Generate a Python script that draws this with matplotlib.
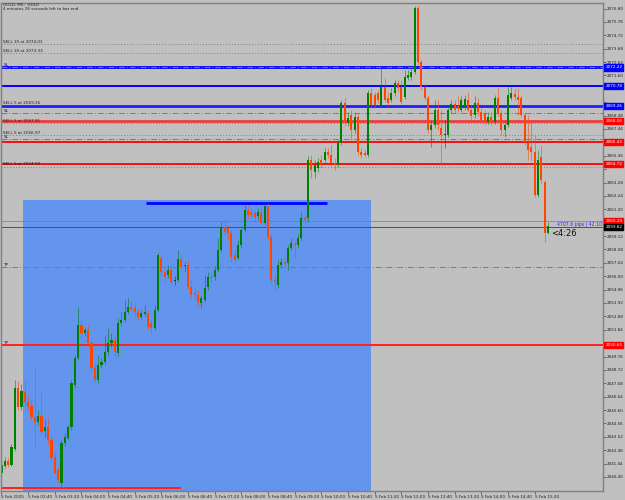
import matplotlib
matplotlib.use("Agg")
import matplotlib.pyplot as plt
from matplotlib.patches import Rectangle

# GOLD M5 bars, 5 Feb 2025 from 02:00
opens = [2040.71, 2041.25, 2041.64, 2041.33, 2042.58, 2047.31, 2045.83, 2047.00, 2046.22, 2045.91,
         2045.06, 2044.67, 2045.14, 2043.97, 2044.28, 2043.27, 2041.95, 2040.94, 2039.93, 2043.04,
         2043.43, 2044.28, 2047.54, 2049.64, 2052.21, 2051.59, 2051.82, 2050.81, 2048.87, 2047.93,
         2049.10, 2049.33, 2050.11, 2050.81, 2051.04, 2050.03, 2052.37, 2052.60, 2053.22, 2053.61,
         2053.53, 2053.22, 2052.83, 2053.06, 2053.14, 2052.37, 2051.98, 2053.37, 2057.42, 2056.33,
         2056.09, 2056.48, 2055.62, 2055.70, 2057.34, 2056.79, 2056.87, 2055.16, 2054.70, 2054.54,
         2053.91, 2054.15, 2055.16, 2055.94, 2055.94, 2056.48, 2058.04, 2059.82, 2059.74, 2059.36,
         2057.65, 2057.42, 2058.42, 2059.59, 2061.14, 2060.98, 2060.91, 2060.68, 2060.91, 2060.14,
         2061.38, 2059.05, 2055.70, 2055.31, 2056.87, 2057.10, 2057.03, 2058.18, 2058.50, 2058.42,
         2058.97, 2060.52, 2060.52, 2065.03, 2064.10, 2064.41, 2065.03, 2065.03, 2065.65, 2065.42,
         2064.79, 2064.64, 2066.35, 2069.46, 2067.91, 2068.52, 2067.36, 2068.37, 2065.65, 2065.57,
         2065.42, 2070.24, 2070.08, 2070.24, 2069.30, 2070.70, 2069.84, 2069.69, 2070.24, 2071.01,
         2070.70, 2069.92, 2071.40, 2071.48, 2071.87, 2076.84, 2072.64, 2070.70, 2069.84, 2067.36,
         2067.75, 2068.91, 2067.52, 2066.97, 2066.97, 2068.91, 2069.38, 2069.23, 2068.91, 2069.15,
         2069.69, 2068.91, 2068.52, 2069.46, 2068.75, 2068.68, 2067.98, 2068.37, 2067.98, 2069.84,
         2068.68, 2067.36, 2067.75, 2069.84, 2070.16, 2069.92, 2069.84, 2068.52, 2066.35, 2066.04,
         2065.65, 2062.31, 2065.26, 2063.32, 2059.36]
highs = [2041.72, 2041.95, 2041.87, 2042.96, 2047.93, 2047.85, 2047.62, 2047.93, 2046.69, 2046.38,
         2048.87, 2045.60, 2046.92, 2044.83, 2044.99, 2043.66, 2042.34, 2041.25, 2043.27, 2043.81,
         2044.44, 2047.93, 2049.88, 2053.61, 2052.60, 2052.06, 2052.21, 2051.04, 2049.33, 2049.88,
         2049.64, 2051.43, 2051.98, 2051.59, 2051.43, 2052.75, 2053.22, 2054.15, 2054.31, 2054.15,
         2053.99, 2053.53, 2053.37, 2053.76, 2053.37, 2052.60, 2053.76, 2057.88, 2057.65, 2056.64,
         2056.87, 2057.10, 2056.01, 2058.04, 2057.65, 2057.10, 2057.26, 2055.70, 2055.08, 2054.93,
         2054.54, 2056.09, 2056.33, 2056.33, 2056.79, 2058.97, 2060.21, 2060.37, 2059.98, 2059.59,
         2058.04, 2058.81, 2059.74, 2061.53, 2061.53, 2061.30, 2061.14, 2061.30, 2061.53, 2061.69,
         2061.69, 2059.28, 2056.09, 2057.26, 2057.42, 2057.42, 2058.42, 2058.97, 2058.81, 2059.28,
         2060.98, 2060.75, 2065.34, 2065.42, 2065.03, 2065.18, 2065.42, 2065.96, 2065.96, 2066.19,
         2065.18, 2066.58, 2069.69, 2069.84, 2068.75, 2068.91, 2068.75, 2068.60, 2065.96, 2065.80,
         2070.47, 2070.62, 2070.31, 2070.47, 2072.18, 2071.40, 2070.31, 2070.62, 2071.24, 2071.24,
         2071.24, 2072.02, 2072.02, 2072.18, 2076.99, 2076.99, 2072.80, 2070.93, 2070.08, 2068.14,
         2069.69, 2069.69, 2068.91, 2068.14, 2069.07, 2069.69, 2069.69, 2070.00, 2070.00, 2070.08,
         2070.31, 2069.30, 2070.00, 2069.84, 2069.07, 2068.91, 2068.75, 2068.75, 2070.08, 2070.62,
         2068.91, 2068.14, 2070.70, 2070.70, 2070.62, 2070.62, 2070.08, 2068.75, 2068.52, 2068.14,
         2066.97, 2065.80, 2066.19, 2063.47, 2060.21]
lows = [2040.47, 2041.10, 2041.17, 2041.25, 2042.42, 2045.60, 2045.60, 2045.99, 2045.60, 2044.83,
        2042.73, 2044.44, 2043.66, 2043.50, 2042.89, 2041.72, 2040.63, 2039.86, 2039.70, 2042.81,
        2043.27, 2044.05, 2047.31, 2049.49, 2051.20, 2051.36, 2050.57, 2048.56, 2047.78, 2047.70,
        2048.87, 2049.18, 2049.88, 2050.50, 2049.64, 2049.80, 2052.14, 2052.44, 2053.06, 2053.30,
        2052.91, 2052.60, 2052.68, 2052.91, 2051.82, 2051.51, 2051.82, 2053.22, 2056.01, 2055.55,
        2055.86, 2055.31, 2055.31, 2055.55, 2056.48, 2056.33, 2054.93, 2054.31, 2054.15, 2053.68,
        2053.53, 2053.99, 2054.93, 2055.55, 2055.70, 2056.33, 2057.88, 2059.21, 2058.81, 2057.10,
        2057.03, 2057.26, 2058.18, 2059.43, 2060.52, 2060.52, 2060.21, 2060.37, 2059.98, 2059.98,
        2058.81, 2055.47, 2054.77, 2055.08, 2056.64, 2056.72, 2056.48, 2058.04, 2057.42, 2058.18,
        2058.81, 2060.06, 2060.21, 2063.63, 2063.63, 2064.10, 2064.41, 2064.79, 2065.18, 2064.56,
        2064.25, 2064.48, 2066.19, 2067.67, 2067.67, 2066.58, 2067.13, 2065.42, 2065.18, 2065.26,
        2065.26, 2069.07, 2069.07, 2069.46, 2069.15, 2069.53, 2069.23, 2069.53, 2070.00, 2070.31,
        2069.38, 2069.77, 2071.24, 2071.24, 2071.71, 2072.41, 2070.47, 2069.69, 2067.13, 2066.04,
        2067.52, 2067.36, 2064.64, 2065.96, 2066.81, 2068.68, 2068.68, 2068.75, 2068.75, 2068.91,
        2068.75, 2068.14, 2068.29, 2068.45, 2067.98, 2067.83, 2067.83, 2067.75, 2067.83, 2068.45,
        2066.97, 2066.81, 2067.60, 2069.69, 2069.69, 2068.52, 2068.37, 2066.19, 2065.03, 2065.03,
        2062.15, 2062.15, 2063.24, 2058.66, 2059.28]
closes = [2041.33, 2041.64, 2041.33, 2042.73, 2047.31, 2045.83, 2047.08, 2046.22, 2045.83, 2045.06,
          2044.60, 2045.14, 2043.89, 2044.28, 2043.27, 2041.87, 2040.71, 2040.17, 2043.04, 2043.50,
          2044.28, 2047.70, 2049.64, 2052.21, 2051.59, 2051.82, 2050.81, 2048.87, 2047.93, 2049.10,
          2049.33, 2050.11, 2050.81, 2051.04, 2050.11, 2052.37, 2052.60, 2053.22, 2053.61, 2053.45,
          2053.22, 2052.83, 2053.14, 2053.22, 2052.06, 2051.98, 2053.37, 2057.65, 2056.33, 2055.94,
          2056.48, 2055.55, 2055.62, 2057.34, 2056.72, 2056.87, 2055.16, 2054.54, 2054.54, 2053.99,
          2054.31, 2055.08, 2055.94, 2055.86, 2056.48, 2058.04, 2059.82, 2059.43, 2059.36, 2057.49,
          2057.26, 2058.42, 2059.59, 2061.14, 2060.75, 2060.75, 2060.60, 2060.98, 2060.14, 2061.45,
          2059.05, 2055.70, 2055.55, 2056.87, 2057.10, 2056.94, 2058.18, 2058.57, 2058.42, 2058.97,
          2060.52, 2060.37, 2065.03, 2064.25, 2064.64, 2064.87, 2064.72, 2065.65, 2065.42, 2064.79,
          2064.64, 2066.35, 2069.46, 2067.91, 2068.29, 2067.36, 2068.37, 2065.65, 2065.42, 2065.42,
          2070.24, 2069.30, 2069.30, 2069.69, 2070.70, 2069.69, 2069.46, 2070.24, 2071.01, 2070.62,
          2069.53, 2071.48, 2071.63, 2071.87, 2076.84, 2072.64, 2070.70, 2069.84, 2067.36, 2067.75,
          2068.91, 2067.75, 2066.97, 2066.97, 2068.91, 2069.38, 2068.91, 2068.99, 2069.69, 2069.77,
          2068.91, 2068.45, 2069.46, 2068.75, 2068.14, 2068.06, 2068.37, 2067.98, 2069.84, 2068.68,
          2067.36, 2067.75, 2070.08, 2070.24, 2069.92, 2069.69, 2068.52, 2066.43, 2065.80, 2065.65,
          2062.31, 2065.03, 2063.47, 2059.36, 2059.90]

time_labels = ["5 Feb 2025", "5 Feb 02:40", "5 Feb 03:20", "5 Feb 04:00", "5 Feb 04:40",
               "5 Feb 05:20", "5 Feb 06:00", "5 Feb 06:40", "5 Feb 07:20", "5 Feb 08:00",
               "5 Feb 08:40", "5 Feb 09:20", "5 Feb 10:00", "5 Feb 10:40", "5 Feb 11:20",
               "5 Feb 12:00", "5 Feb 12:40", "5 Feb 13:20", "5 Feb 14:00", "5 Feb 14:40",
               "5 Feb 15:20"]
price_ticks = [2040.40 + 1.04 * k for k in range(36)]

# order lines (label, price)
orders = [("SELL 10 at 2074.01", 2074.01), ("SELL 10 at 2073.33", 2073.33),
          ("SELL 5 at 2069.26", 2069.26), ("SELL 5 at 2067.91", 2067.91),
          ("SELL 5 at 2066.97", 2066.97), ("SELL 5 at 2064.50", 2064.50)]
sl_levels = [2072.22, 2068.68, 2066.66]
tp_levels = [2056.71, 2050.65]
blue_levels = [2072.22, 2070.78, 2069.26]
red_levels = [2068.06, 2066.43, 2064.72]
ask, bid = 2060.29, 2059.82

bg = "#C0C0C0"
up_col = "#008000"
dn_col = "#FF4500"

fig = plt.figure(figsize=(6.25, 5), dpi=100, facecolor=bg)
ax = fig.add_axes([1.5 / 625, 9 / 500, 601.5 / 625, 488 / 500], facecolor=bg)
ax.set_xlim(0.1, 180.5)
ax.set_ylim(2039.31, 2077.23)

# rectangle object
ax.add_patch(Rectangle((6.6, 2037.0), 104.2, 2061.92 - 2037.0, facecolor="#6495ED",
                       edgecolor="none", zorder=0.5))

# horizontal lines
for label, p in orders:
    ax.axhline(p, color="#808080", lw=0.7, ls=(0, (1, 2)), zorder=1)
ax.axhline(blue_levels[0], color="#0000FF", lw=2, zorder=1.2)
ax.axhline(blue_levels[1], color="#0000FF", lw=1.4, zorder=1.2)
ax.axhline(blue_levels[2], color="#1E1EFF", lw=2, zorder=1.2)
ax.axhline(red_levels[0], color="#F03C3C", lw=2, zorder=1.2)
ax.axhline(red_levels[1], color="#FF0000", lw=1.3, zorder=1.2)
ax.axhline(red_levels[2], color="#FF0000", lw=1.3, zorder=1.2)
for p in sl_levels + tp_levels[:1]:
    ax.axhline(p, color="#E05050", lw=0.7, ls=(0, (6, 2, 1, 2)), zorder=1.3)
ax.axhline(tp_levels[1], color="#FF2020", lw=1.4, zorder=1.2)
ax.axhline(ask, color="#FF4040", lw=0.6, alpha=0.8, zorder=1.2)
ax.axhline(bid, color="#505050", lw=0.7, zorder=1.2)
ax.hlines(2039.54, -1, 53.8, color="#FF2020", lw=1.4, zorder=1.2)
ax.hlines(2061.69, 43.5, 97.6, color="#0000FF", lw=2, zorder=1.2)

# candles
xs = list(range(len(closes)))
for i in xs:
    o, h, l, c = opens[i], highs[i], lows[i], closes[i]
    if c > o:
        col = up_col
    elif c < o:
        col = dn_col
    else:
        col = "#303030"
    ax.vlines(i, l, h, color=col, lw=0.7, alpha=0.55, zorder=2)
    ax.bar(i, max(abs(c - o), 0.06), bottom=min(o, c), width=0.62, color=col,
           linewidth=0, zorder=2.1)

# text on the chart
tx = ax.get_yaxis_transform()
for label, p in orders:
    ax.text(0.003, p + 0.03, label, transform=tx, fontsize=3, color="#202020", va="bottom")
for p in sl_levels:
    ax.text(0.003, p + 0.03, "SL", transform=tx, fontsize=3, color="#202020", va="bottom")
for p in tp_levels:
    ax.text(0.003, p + 0.03, "TP", transform=tx, fontsize=3, color="#202020", va="bottom")

ax.text(0.003, 0.999, "GOLD, M5:  GOLD", transform=ax.transAxes, fontsize=3,
        color="#202020", va="top")
ax.text(0.003, 0.991, "4 minutes 26 seconds left to bar end", transform=ax.transAxes,
        fontsize=3, color="#202020", va="top")
ax.text(0.998, (ask + bid) / 2, "4707.6 pips | 42.10", transform=tx, fontsize=3.3,
        color="#3030FF", ha="right", va="center")
ax.text(164.9, 2059.3, "<4:26", fontsize=6, color="#101010", va="center")

# price boxes on the right axis
boxes = [(blue_levels[0], "#0000FF"), (blue_levels[1], "#0000FF"), (blue_levels[2], "#0000FF"),
         (red_levels[0], "#FF0000"), (red_levels[1], "#FF0000"), (red_levels[2], "#FF0000"),
         (ask, "#FF0000"), (bid, "#000000"), (tp_levels[1], "#FF0000")]
for p, col in boxes:
    ax.text(1.004, p, "%.2f" % p, transform=tx, fontsize=3, color="white", va="center",
            ha="left", clip_on=False, zorder=6,
            bbox=dict(boxstyle="square,pad=0.25", fc=col, ec=col))

# tick labels that sit under a price box are hidden, as in the terminal
box_prices = [p for p, col in boxes]
tick_text = []
for t in price_ticks:
    if min(abs(t - p) for p in box_prices) < 0.4:
        tick_text.append("")
    else:
        tick_text.append("%.2f" % t)

# axes
ax.yaxis.tick_right()
ax.set_yticks(price_ticks)
ax.set_yticklabels(tick_text, fontsize=3, color="#202020")
ax.set_xticks([8 * k for k in range(len(time_labels))])
ax.set_xticklabels(time_labels, fontsize=3, color="#202020", ha="left")
ax.tick_params(axis="both", length=2, width=0.5, color="#404040", pad=1)
for s in ax.spines.values():
    s.set_color("#808080")
    s.set_linewidth(1)

fig.savefig("out.png", dpi=100, facecolor=bg)
